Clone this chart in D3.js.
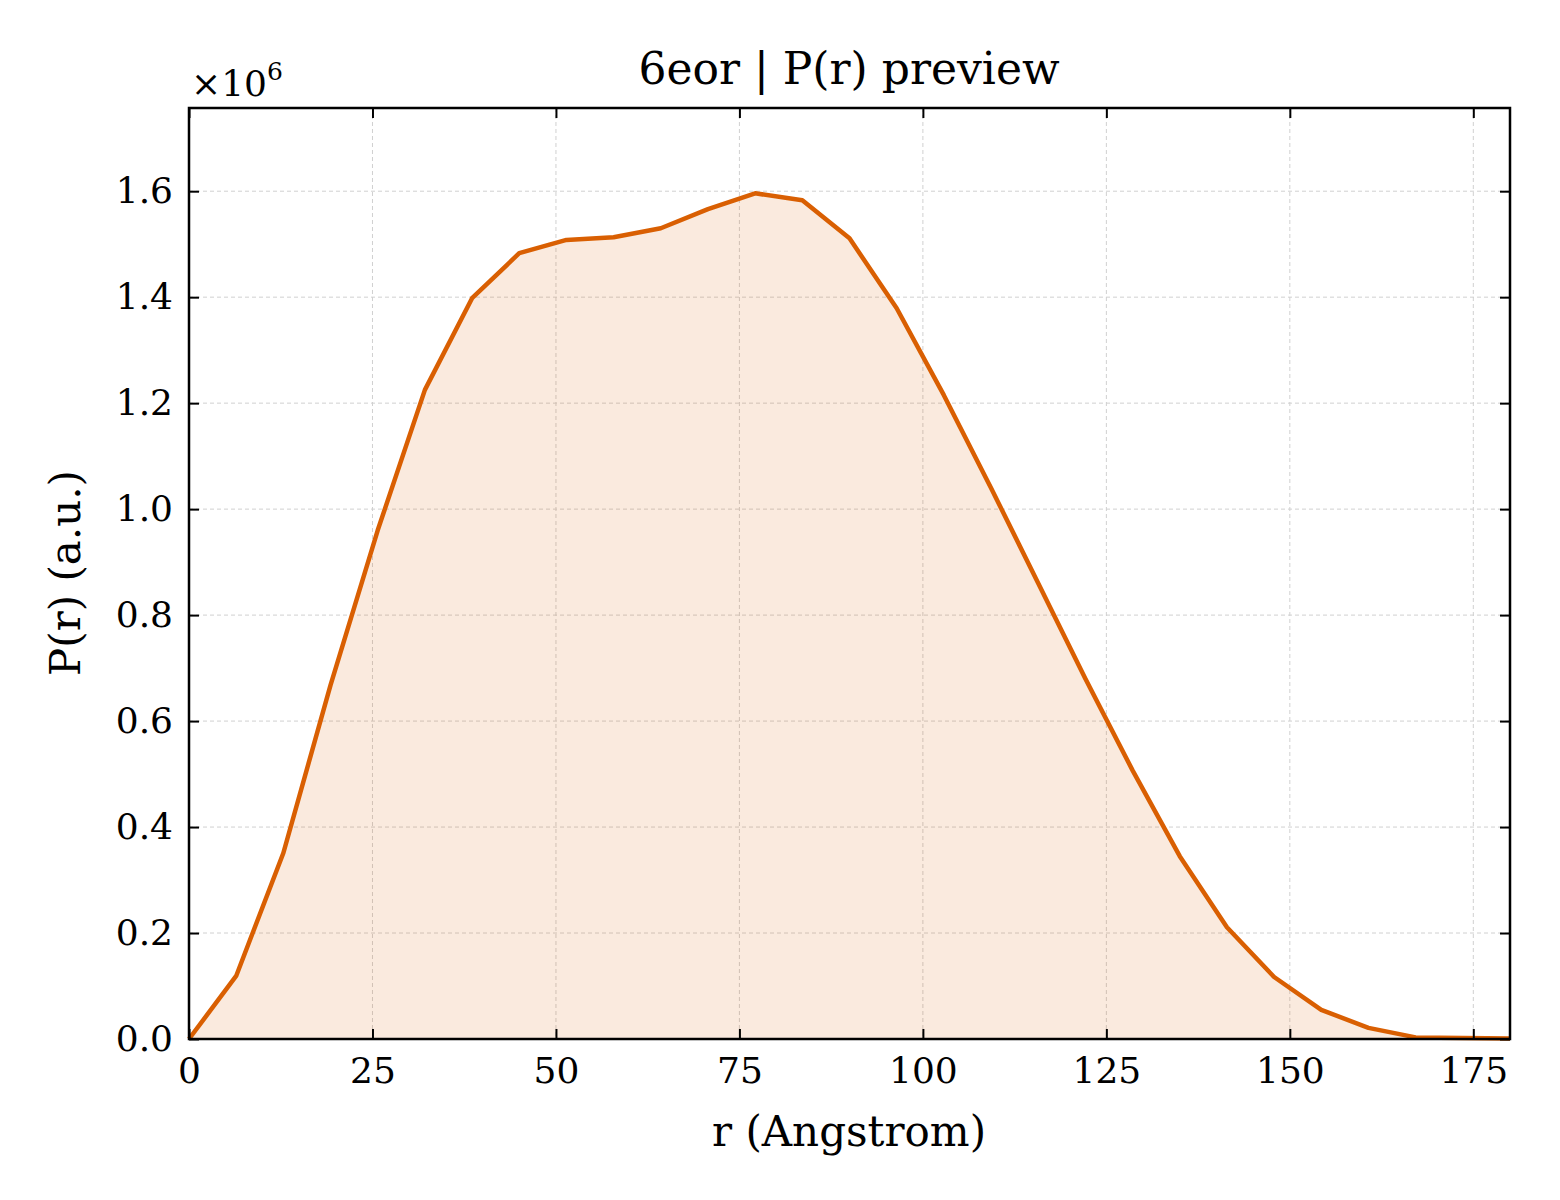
<!DOCTYPE html>
<html><head><meta charset="utf-8">
<script src="https://cdn.jsdelivr.net/npm/d3@7"></script>
<style>body{margin:0;background:#fff}svg{font-family:"DejaVu Serif",serif}</style>
</head><body><svg id="c" width="1560" height="1200"></svg>
<script>
const rValues = d3.range(29).map(i => i * 180 / 28);
const pValues = [0,0.119,0.351,0.668,0.96,1.225,1.398,1.483,1.508,1.513,1.530,1.566,1.596,1.583,1.511,1.379,1.215,1.04,0.86,0.68,0.507,0.345,0.211,0.117,0.055,0.021,0.003,0.002,0.001];
const xTicks = [0,25,50,75,100,125,150,175];
const yTicks = [0,0.2,0.4,0.6,0.8,1.0,1.2,1.4,1.6];
const data = rValues.map((r,i)=>({r, p:pValues[i]}));

const L=189,R=1510,T=108,B=1039;
const svg=d3.select("#c");
const x=d3.scaleLinear().domain([0,180]).range([L,R]);
const y=d3.scaleLinear().domain([0,1.757]).range([B,T]);
const color="#d95f02";

const g=svg.append("g");
g.selectAll(".gx").data(xTicks).join("line").attr("x1",d=>x(d)).attr("x2",d=>x(d)).attr("y1",T).attr("y2",B)
 .attr("stroke","#d0d0d0").attr("stroke-width",1).attr("stroke-dasharray","4,3");
g.selectAll(".gy").data(yTicks).join("line").attr("y1",d=>y(d)).attr("y2",d=>y(d)).attr("x1",L).attr("x2",R)
 .attr("stroke","#d0d0d0").attr("stroke-width",1).attr("stroke-dasharray","4,3");

svg.append("path").datum(data).attr("d",d3.area().x(d=>x(d.r)).y0(y(0)).y1(d=>y(d.p)))
 .attr("fill",color).attr("fill-opacity",0.13);
svg.append("path").datum(data).attr("d",d3.line().x(d=>x(d.r)).y(d=>y(d.p)))
 .attr("fill","none").attr("stroke",color).attr("stroke-width",4.5).attr("stroke-linejoin","round");

const ax=svg.append("g").attr("transform",`translate(0,${B})`).call(d3.axisBottom(x).tickValues(xTicks).tickSizeInner(-10).tickSizeOuter(0).tickPadding(18));
const ax2=svg.append("g").attr("transform",`translate(0,${T})`).call(d3.axisTop(x).tickValues(xTicks).tickSizeInner(-10).tickSizeOuter(0).tickFormat(""));
const ay=svg.append("g").attr("transform",`translate(${L},0)`).call(d3.axisLeft(y).tickValues(yTicks).tickFormat(d3.format(".1f")).tickSizeInner(-10).tickSizeOuter(0).tickPadding(16));
const ay2=svg.append("g").attr("transform",`translate(${R},0)`).call(d3.axisRight(y).tickValues(yTicks).tickSizeInner(-10).tickSizeOuter(0).tickFormat(""));
[ax,ax2,ay,ay2].forEach(a=>{a.select(".domain").remove();a.selectAll("line").attr("stroke","#000").attr("stroke-width",2);
 a.attr("font-size",null).attr("font-family",null);
 a.selectAll("text").style("font-family","DejaVu Serif").style("font-size","36px").attr("fill","#000");});
svg.append("rect").attr("x",L).attr("y",T).attr("width",R-L).attr("height",B-T).attr("fill","none").attr("stroke","#000").attr("stroke-width",2.5);

svg.append("text").attr("x",849).attr("y",84).attr("text-anchor","middle").style("font-size","44px").text("6eor | P(r) preview");
svg.append("text").attr("x",849).attr("y",1146).attr("text-anchor","middle").style("font-size","42px").text("r (Angstrom)");
svg.append("text").attr("transform","translate(80,573) rotate(-90)").attr("text-anchor","middle").style("font-size","42px").text("P(r) (a.u.)");
const m=svg.append("text").attr("x",191).attr("y",96).style("font-size","36px").text("×10");
m.append("tspan").attr("dy",-16).style("font-size","25px").text("6");
</script></body></html>
